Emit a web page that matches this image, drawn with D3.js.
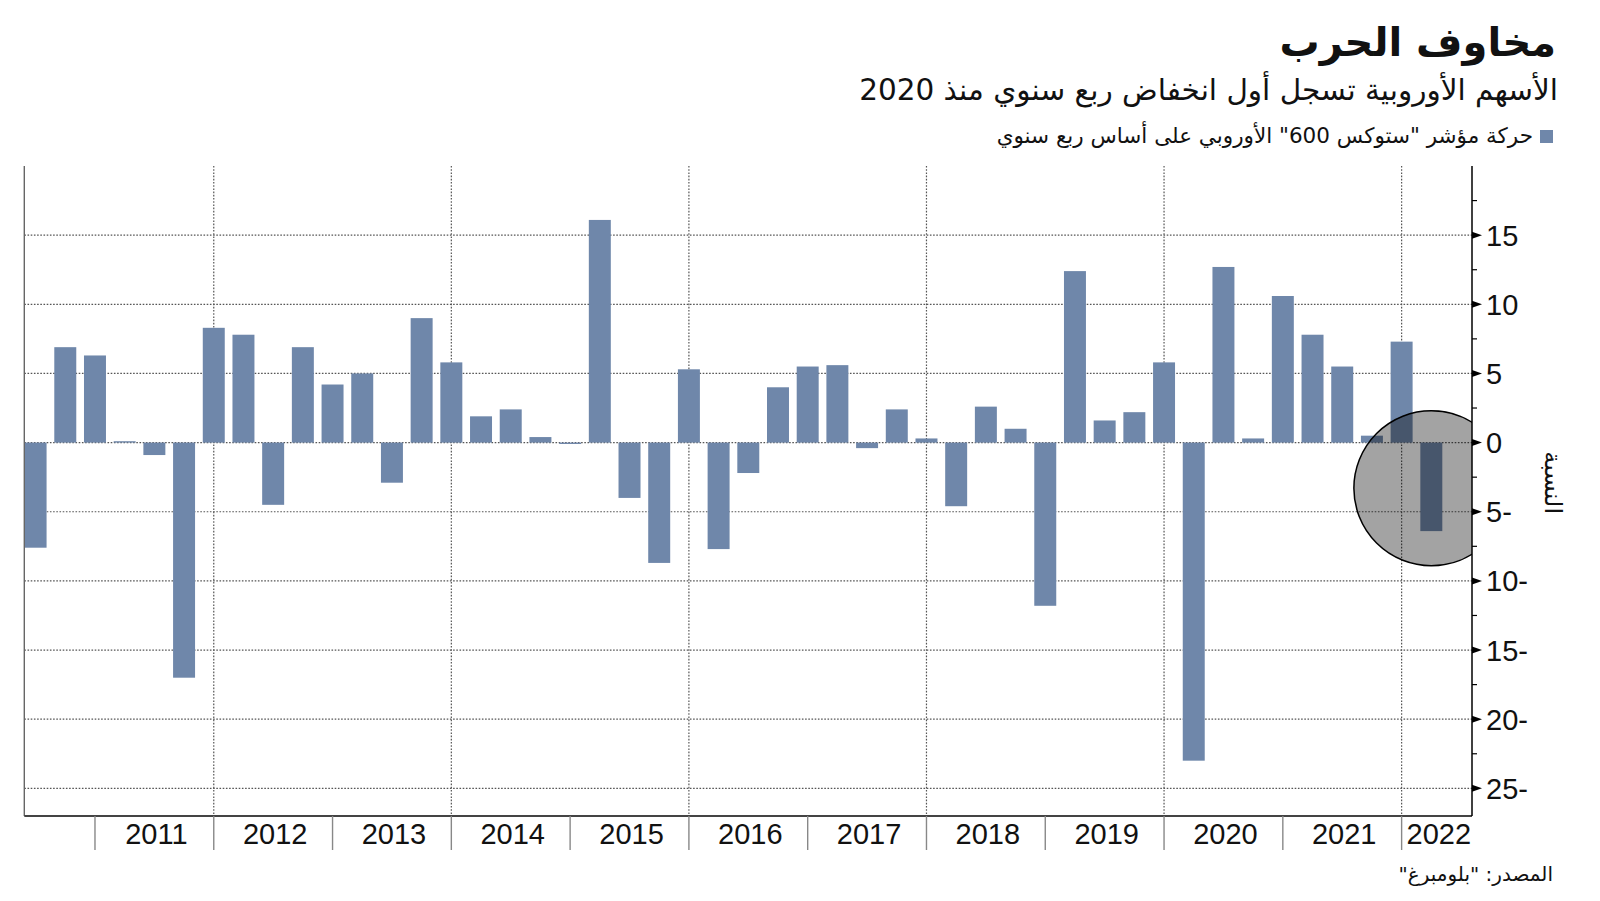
<!DOCTYPE html>
<html lang="ar">
<head>
<meta charset="utf-8">
<script src="https://cdn.jsdelivr.net/npm/d3@7"></script>
<style>
  html, body { margin: 0; padding: 0; background: #fff; }
  svg { display: block; }
  .ar { font-family: "DejaVu Sans", "Noto Sans", sans-serif; }
  .num { font-family: "Liberation Sans Narrow", "Liberation Sans", sans-serif; }
</style>
</head>
<body>
<svg id="chart" width="1600" height="901"></svg>
<script>
// ---- DATA ----
const quarters = [
  "2010 Q2","2010 Q3","2010 Q4",
  "2011 Q1","2011 Q2","2011 Q3","2011 Q4",
  "2012 Q1","2012 Q2","2012 Q3","2012 Q4",
  "2013 Q1","2013 Q2","2013 Q3","2013 Q4",
  "2014 Q1","2014 Q2","2014 Q3","2014 Q4",
  "2015 Q1","2015 Q2","2015 Q3","2015 Q4",
  "2016 Q1","2016 Q2","2016 Q3","2016 Q4",
  "2017 Q1","2017 Q2","2017 Q3","2017 Q4",
  "2018 Q1","2018 Q2","2018 Q3","2018 Q4",
  "2019 Q1","2019 Q2","2019 Q3","2019 Q4",
  "2020 Q1","2020 Q2","2020 Q3","2020 Q4",
  "2021 Q1","2021 Q2","2021 Q3","2021 Q4",
  "2022 Q1"
];
const changes = [
  -7.6, 6.9, 6.3,
  0.1, -0.9, -17.0, 8.3,
  7.8, -4.5, 6.9, 4.2,
  5.0, -2.9, 9.0, 5.8,
  1.9, 2.4, 0.4, -0.1,
  16.1, -4.0, -8.7, 5.3,
  -7.7, -2.2, 4.0, 5.5,
  5.6, -0.4, 2.4, 0.3,
  -4.6, 2.6, 1.0, -11.8,
  12.4, 1.6, 2.2, 5.8,
  -23.0, 12.7, 0.3, 10.6,
  7.8, 5.5, 0.5, 7.3,
  -6.4
];
const years = [2011,2012,2013,2014,2015,2016,2017,2018,2019,2020,2021,2022];
const gridYears = [2012,2014,2016,2018,2020,2022];
const yMajorTicks = [-25,-20,-15,-10,-5,0,5,10,15];
const yMinorTicks = [-22.5,-17.5,-12.5,-7.5,-2.5,2.5,7.5,12.5,17.5];
const yDomain = [-27, 20];
const titleText = "مخاوف الحرب";
const subtitleText = "الأسهم الأوروبية تسجل أول انخفاض ربع سنوي منذ 2020";
const legendText = "حركة مؤشر \"ستوكس 600\" الأوروبي على أساس ربع سنوي";
const sourceText = "المصدر: \"بلومبرغ\"";
const yAxisTitle = "النسبة";
// highlight circle (latest quarter)
const highlightIndex = 47;
const highlightValue = -3.3;
const highlightRadius = 5.6; // in value units

// ---- LAYOUT ----
const pLeft = 24.3, pRight = 1472, pTop = 166, pBottom = 816;
const barColor = "#6f87aa";

const svg = d3.select("#chart");

// the Q4 of the previous year sits on the year boundary
const yearBoundaryIndex = yr => quarters.indexOf((yr - 1) + " Q4");

const x = d3.scaleLinear().domain([-0.38, 48.37]).range([pLeft, pRight]);
const y = d3.scaleLinear().domain(yDomain).range([pBottom, pTop]);
const halfBar = 0.37;

svg.append("defs").append("clipPath").attr("id", "plotclip")
  .append("rect").attr("x", pLeft).attr("y", pTop).attr("width", pRight - pLeft).attr("height", pBottom - pTop);

// horizontal dotted grid
svg.append("g").selectAll("line").data(yMajorTicks).join("line")
  .attr("x1", pLeft).attr("x2", pRight)
  .attr("y1", d => y(d)).attr("y2", d => y(d))
  .attr("stroke", "#555").attr("stroke-width", 1.2).attr("stroke-dasharray", "1.6,1.6");

// vertical dotted grid at even years
svg.append("g").selectAll("line").data(gridYears).join("line")
  .attr("x1", d => x(yearBoundaryIndex(d))).attr("x2", d => x(yearBoundaryIndex(d)))
  .attr("y1", pTop).attr("y2", pBottom)
  .attr("stroke", "#555").attr("stroke-width", 1.2).attr("stroke-dasharray", "1.6,1.6");

// bars
svg.append("g").selectAll("rect").data(changes).join("rect")
  .attr("x", (d, i) => x(i - halfBar))
  .attr("width", (d, i) => x(i + halfBar) - x(i - halfBar))
  .attr("y", d => y(Math.max(0, d)))
  .attr("height", d => Math.abs(y(d) - y(0)))
  .attr("fill", barColor);

// highlight circle
svg.append("circle")
  .attr("clip-path", "url(#plotclip)")
  .attr("cx", x(highlightIndex))
  .attr("cy", y(highlightValue))
  .attr("r", y(0) - y(highlightRadius))
  .attr("fill", "rgba(0,0,0,0.36)")
  .attr("stroke", "#000").attr("stroke-width", 1.5);

// left axis line
svg.append("line").attr("x1", pLeft).attr("x2", pLeft).attr("y1", pTop).attr("y2", pBottom)
  .attr("stroke", "#666").attr("stroke-width", 1.4);

// bottom axis
svg.append("line").attr("x1", pLeft).attr("x2", pRight).attr("y1", pBottom).attr("y2", pBottom)
  .attr("stroke", "#444").attr("stroke-width", 2);

// year ticks below axis
svg.append("g").selectAll("line").data(years).join("line")
  .attr("x1", d => x(yearBoundaryIndex(d))).attr("x2", d => x(yearBoundaryIndex(d)))
  .attr("y1", pBottom).attr("y2", 850)
  .attr("stroke", "#888").attr("stroke-width", 1.4);

// year labels centred between boundaries
svg.append("g").selectAll("text").data(years).join("text")
  .attr("class", "num")
  .attr("x", d => {
    const a = x(yearBoundaryIndex(d));
    const b = d === 2022 ? pRight : x(yearBoundaryIndex(d + 1));
    return (a + b) / 2 + 2;
  })
  .attr("y", 844)
  .attr("text-anchor", "middle")
  .attr("font-size", 29)
  .attr("fill", "#111")
  .text(d => d);

// right axis
const yAxis = svg.append("g");
yAxis.append("line").attr("x1", pRight).attr("x2", pRight).attr("y1", pTop).attr("y2", pBottom)
  .attr("stroke", "#000").attr("stroke-width", 1.5);
yAxis.selectAll("path.tri").data(yMajorTicks).join("path")
  .attr("class", "tri")
  .attr("d", d => `M${pRight},${y(d) - 3.5}L${pRight + 10},${y(d)}L${pRight},${y(d) + 3.5}Z`)
  .attr("fill", "#000");
yAxis.selectAll("line.minor").data(yMinorTicks).join("line")
  .attr("class", "minor")
  .attr("x1", pRight).attr("x2", pRight + 5)
  .attr("y1", d => y(d)).attr("y2", d => y(d))
  .attr("stroke", "#000").attr("stroke-width", 1.2);
yAxis.selectAll("text").data(yMajorTicks).join("text")
  .attr("class", "num")
  .attr("x", pRight + 14)
  .attr("y", d => y(d) + 10.5)
  .attr("font-size", 29)
  .attr("fill", "#111")
  .attr("direction", "ltr")
  .text(d => d < 0 ? `${Math.abs(d)}-` : `${d}`);

// y axis title (rotated)
svg.append("text")
  .attr("class", "ar")
  .attr("transform", `translate(1545,${y(-2.9)}) rotate(90)`)
  .attr("text-anchor", "middle")
  .attr("font-size", 24)
  .attr("fill", "#111")
  .text(yAxisTitle);

// title
svg.append("text").attr("class", "ar")
  .attr("x", 1556).attr("y", 56)
  .attr("text-anchor", "start").attr("direction", "rtl")
  .attr("font-size", 40).attr("font-weight", "bold").attr("fill", "#111")
  .text(titleText);

// subtitle
svg.append("text").attr("class", "ar")
  .attr("x", 1558).attr("y", 100)
  .attr("text-anchor", "start").attr("direction", "rtl")
  .attr("font-size", 29.5).attr("fill", "#111")
  .text(subtitleText);

// legend
svg.append("rect").attr("x", 1540).attr("y", 130).attr("width", 13).attr("height", 13).attr("fill", barColor);
svg.append("text").attr("class", "ar")
  .attr("x", 1533).attr("y", 143)
  .attr("text-anchor", "start").attr("direction", "rtl")
  .attr("font-size", 21.5).attr("fill", "#111")
  .text(legendText);

// source
svg.append("text").attr("class", "ar")
  .attr("x", 1553).attr("y", 881)
  .attr("text-anchor", "start").attr("direction", "rtl")
  .attr("font-size", 20).attr("fill", "#111")
  .text(sourceText);
</script>
</body>
</html>
